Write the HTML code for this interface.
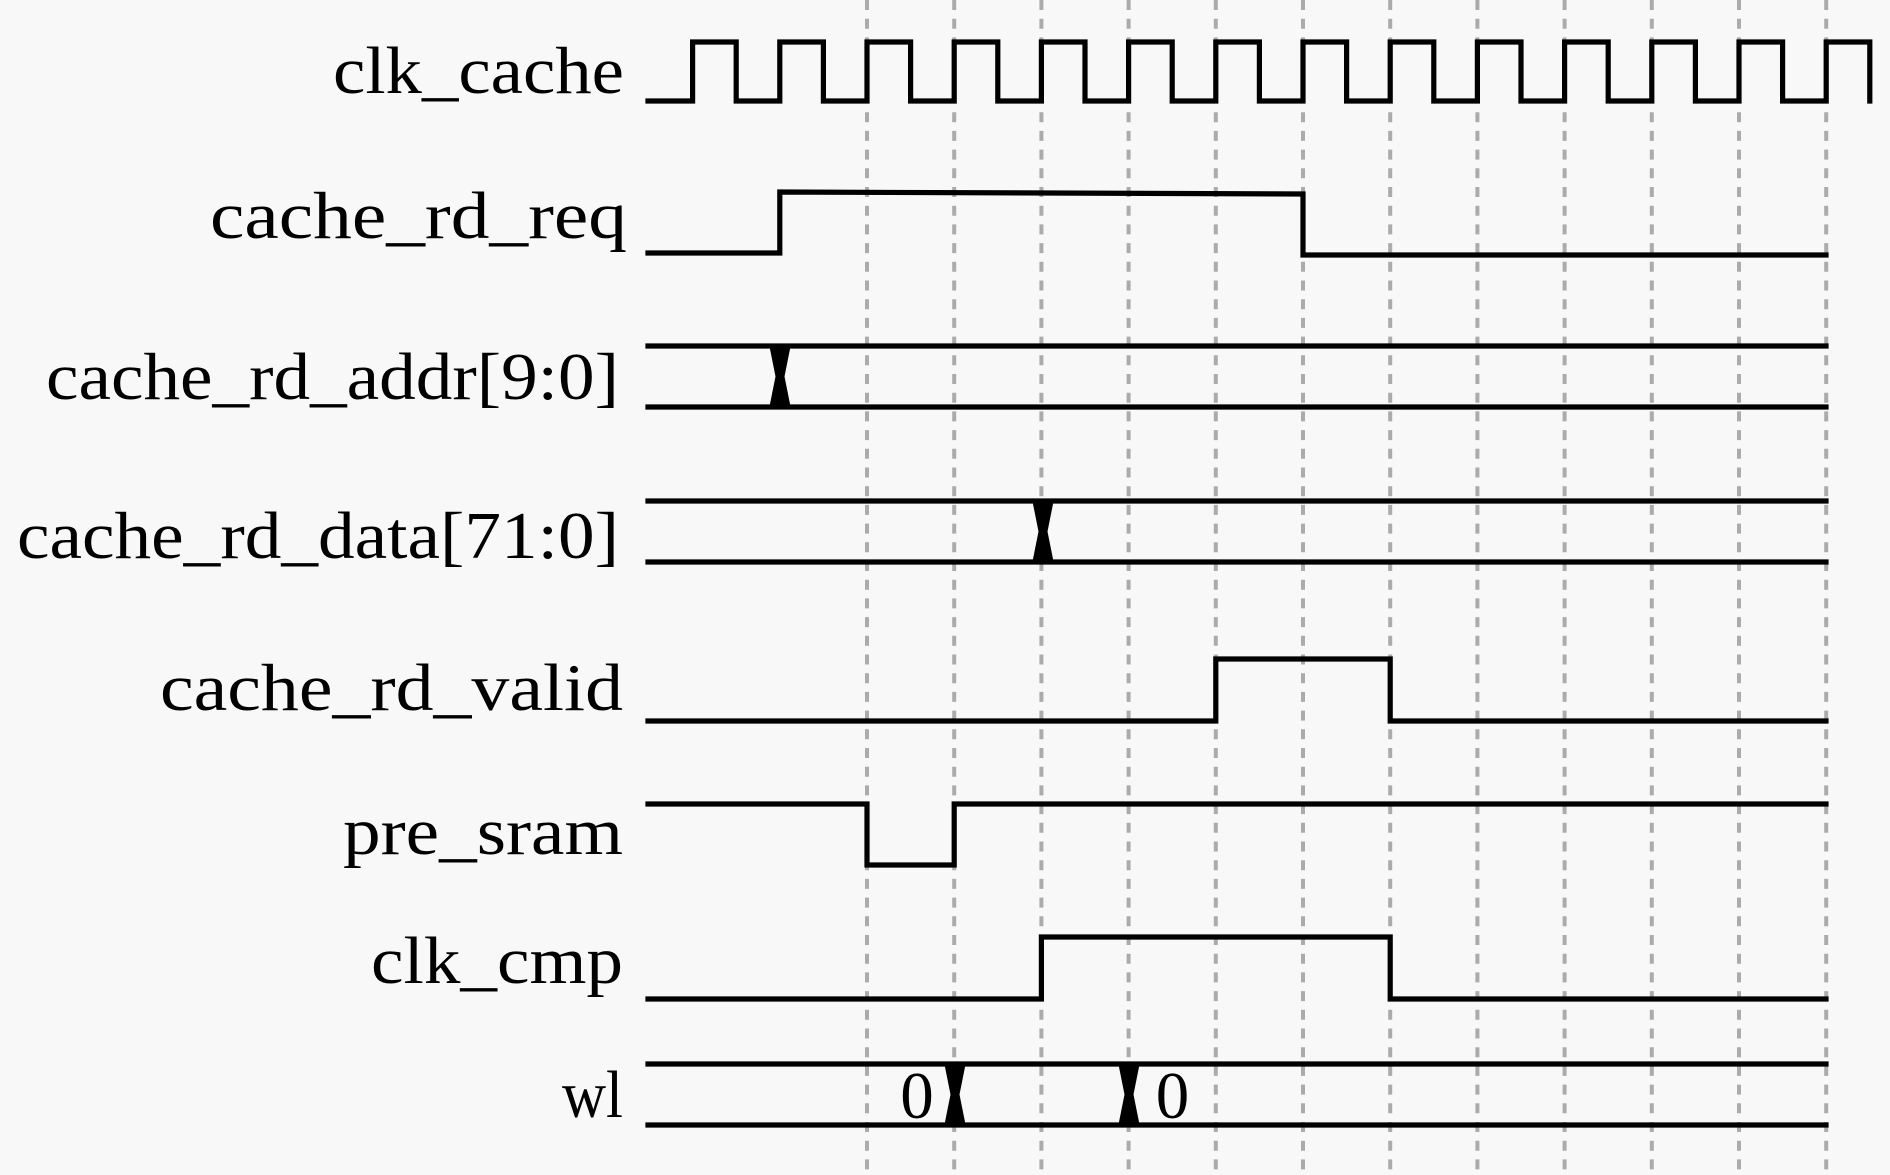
<!DOCTYPE html>
<html>
<head>
<meta charset="utf-8">
<style>
  html, body { margin: 0; padding: 0; background: #f8f8f8; }
  svg { display: block; }
  text { font-family: "Liberation Serif", "DejaVu Serif", serif; font-size: 67px; fill: #000; }
</style>
</head>
<body>
<svg width="1890" height="1175" viewBox="0 0 1890 1175" xmlns="http://www.w3.org/2000/svg">
  <rect x="0" y="0" width="1890" height="1175" fill="#f8f8f8"/>

  <!-- dashed grid lines -->
  <g stroke="#ababab" stroke-width="4" stroke-dasharray="10 8.7" fill="none">
    <line x1="867.0" y1="0" x2="867.0" y2="1175"/>
    <line x1="954.2" y1="0" x2="954.2" y2="1175"/>
    <line x1="1041.4" y1="0" x2="1041.4" y2="1175"/>
    <line x1="1128.6" y1="0" x2="1128.6" y2="1175"/>
    <line x1="1215.8" y1="0" x2="1215.8" y2="1175"/>
    <line x1="1303.0" y1="0" x2="1303.0" y2="1175"/>
    <line x1="1390.2" y1="0" x2="1390.2" y2="1175"/>
    <line x1="1477.4" y1="0" x2="1477.4" y2="1175"/>
    <line x1="1564.6" y1="0" x2="1564.6" y2="1175"/>
    <line x1="1651.8" y1="0" x2="1651.8" y2="1175"/>
    <line x1="1739.0" y1="0" x2="1739.0" y2="1175"/>
    <line x1="1826.2" y1="0" x2="1826.2" y2="1175"/>
  </g>

  <!-- waveforms -->
  <g stroke="#000" stroke-width="5.2" fill="none" stroke-linejoin="miter" stroke-linecap="square">
    <!-- clk_cache -->
    <path d="M648 101 H692.6 V42 H736.2 V101 H779.8 V42 H823.4 V101 H867.0 V42 H910.6 V101 H954.2 V42 H997.8 V101 H1041.4 V42 H1085.0 V101 H1128.6 V42 H1172.2 V101 H1215.8 V42 H1259.4 V101 H1303.0 V42 H1346.6 V101 H1390.2 V42 H1433.8 V101 H1477.4 V42 H1521.0 V101 H1564.6 V42 H1608.2 V101 H1651.8 V42 H1695.4 V101 H1739.0 V42 H1782.6 V101 H1826.2 V42 H1869.8 V101"/>
    <!-- cache_rd_req -->
    <path d="M648 253 H779.8 V192 L1303 194 V255 L1826 255"/>
    <!-- cache_rd_addr bus -->
    <line x1="648" y1="346" x2="1826" y2="346"/>
    <line x1="648" y1="407" x2="1826" y2="407"/>
    <!-- cache_rd_data bus -->
    <line x1="648" y1="501" x2="1826" y2="501"/>
    <line x1="648" y1="562" x2="1826" y2="562"/>
    <!-- cache_rd_valid -->
    <path d="M648 721 H1215.8 V659 H1390.2 V721 H1826"/>
    <!-- pre_sram -->
    <path d="M648 804 H867 V865 H954.2 V804 H1826"/>
    <!-- clk_cmp -->
    <path d="M648 999 H1041.4 V937 H1390.2 V999 H1826"/>
    <!-- wl bus -->
    <line x1="648" y1="1064" x2="1826" y2="1064"/>
    <line x1="648" y1="1125" x2="1826" y2="1125"/>
  </g>

  <!-- bus transitions (hourglass) -->
  <g fill="#000">
    <polygon points="769,344 791,344 784.5,376.5 791,409 769,409 775.5,376.5"/>
    <polygon points="1032,499 1054,499 1047.5,531.5 1054,564 1032,564 1038.5,531.5"/>
    <polygon points="944,1062 966,1062 959.5,1094.5 966,1127 944,1127 950.5,1094.5"/>
    <polygon points="1118,1062 1140,1062 1133.5,1094.5 1140,1127 1118,1127 1124.5,1094.5"/>
  </g>

  <!-- labels -->
  <text x="333" y="93" textLength="291" lengthAdjust="spacingAndGlyphs">clk_cache</text>
  <text x="210" y="238" textLength="417" lengthAdjust="spacingAndGlyphs">cache_rd_req</text>
  <text x="46" y="399" textLength="573" lengthAdjust="spacingAndGlyphs">cache_rd_addr[9:0]</text>
  <text x="17" y="558" textLength="602" lengthAdjust="spacingAndGlyphs">cache_rd_data[71:0]</text>
  <text x="160" y="710" textLength="463" lengthAdjust="spacingAndGlyphs">cache_rd_valid</text>
  <text x="343" y="854" textLength="280" lengthAdjust="spacingAndGlyphs">pre_sram</text>
  <text x="371" y="983" textLength="252" lengthAdjust="spacingAndGlyphs">clk_cmp</text>
  <text x="562" y="1117" textLength="61" lengthAdjust="spacingAndGlyphs">wl</text>

  <!-- bus values -->
  <text x="917" y="1118" text-anchor="middle">0</text>
  <text x="1172.5" y="1118" text-anchor="middle">0</text>
</svg>
</body>
</html>
